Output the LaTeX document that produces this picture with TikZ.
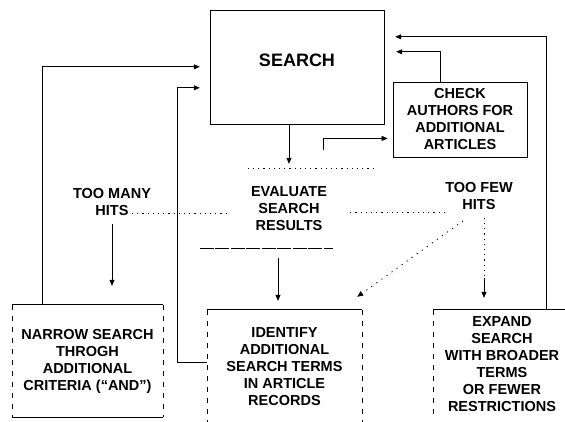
\documentclass[tikz,border=0pt]{standalone}
\usepackage{fontspec}
\setmainfont{Liberation Sans}
\usetikzlibrary{arrows.meta,calc}
\begin{document}
\begin{tikzpicture}[x=1pt,y=-1pt,
  lbl/.style={font=\fontsize{14.5}{17}\selectfont\bfseries, align=center, inner sep=0pt},
  box/.style={inner sep=0pt, font=\fontsize{14.5}{17}\selectfont\bfseries, align=center},
  boxedge/.style={line width=0.8pt},
  sideedge/.style={line width=0.6pt, dash pattern=on 5pt off 6pt},
  dotline/.style={line width=0.8pt, dash pattern=on 1.2pt off 4pt},
  dashline/.style={line width=0.8pt, dash pattern=on 14pt off 1.5pt},
  arr/.style={-{Triangle[length=6pt,width=5pt]}, line width=0.7pt},
  dotarr/.style={-{Triangle[length=6pt,width=5pt]}, line width=0.8pt, dash pattern=on 1.2pt off 5pt},
]
\useasboundingbox (0,0) rectangle (565,421);

% ---- boxes ----
\node[box, minimum width=173pt, minimum height=113pt] (search) at (297.5,67.5) {};
\node[lbl, font=\fontsize{18}{20}\selectfont\bfseries] (searchtxt) at (297,60) {SEARCH};
\draw[boxedge] (search.north west) rectangle (search.south east);

\node[box, draw, line width=0.8pt, minimum width=134pt, minimum height=75pt] (check) at (460,119.5)
  {CHECK\\AUTHORS FOR\\ADDITIONAL\\ARTICLES};

\node[box, minimum width=130pt, minimum height=79pt] (evaluate) at (289,208.5)
  {EVALUATE\\SEARCH\\RESULTS};
\draw[dotline] ($(evaluate.north west)+(24,0)$) -- ($(evaluate.north east)+(19,0)$);
\draw[dashline] ($(evaluate.south west)+(-24,0)$) -- ($(evaluate.south east)+(-21,0)$);

\node[box, minimum width=151pt, minimum height=112pt] (narrow) at (87.5,361)
  {NARROW SEARCH\\THROGH\\ADDITIONAL\\CRITERIA (“AND”)};
\draw[boxedge] (narrow.north west) -- (narrow.north east);
\draw[boxedge] (narrow.south west) -- (narrow.south east);
\draw[sideedge] (narrow.north west) -- (narrow.south west);
\draw[sideedge] (narrow.north east) -- (narrow.south east);

\node[box, minimum width=155pt, minimum height=114pt] (identify) at (284.5,367)
  {IDENTIFY\\ADDITIONAL\\SEARCH TERMS\\IN ARTICLE\\RECORDS};
\draw[boxedge] (identify.north west) -- (identify.north east);
\draw[sideedge] (identify.north west) -- (identify.south west);
\draw[sideedge] (identify.north east) -- (identify.south east);

\node[box, minimum width=138pt, minimum height=109pt] (expand) at (502,364.5)
  {EXPAND\\SEARCH\\WITH BROADER\\TERMS\\OR FEWER\\RESTRICTIONS};
\draw[boxedge] (expand.north west) -- (expand.north east);
\draw[sideedge] (expand.north west) -- (expand.south west);

% ---- labels ----
\node[lbl] (toomany) at (112,202) {TOO MANY\\HITS};
\node[lbl] (toofew) at (479,196) {TOO FEW\\HITS};

% ---- connectors ----
\draw[arr, shorten >=5pt] (search.south -| evaluate.north) -- (evaluate.north);
\draw[arr, shorten <=10pt, shorten >=9pt] ($(evaluate.south)+(-11,0)$) -- ($(identify.north)+(-6.5,0)$);

\coordinate (k1) at ($(evaluate.north)+(34,-19)$);
\draw[arr, shorten >=5pt] (k1) |- ($(check.south west)+(0,-19)$);

\draw[arr, shorten >=12pt] ($(check.north)+(-20,0)$) |- ($(search.north east)+(0,41)$);
\draw[arr, shorten >=11pt] ($(expand.north west)+(114,0)$) |- ($(search.north east)+(0,26)$);
\draw[arr, shorten >=11pt] ($(narrow.north west)+(31,0)$) |- ($(search.north west)+(0,56)$);
\draw[arr, shorten >=11pt] ($(identify.west)+(0,-5)$) -- ++(-29,0) |- ($(search.north west)+(0,77)$);

\draw[arr, shorten <=8pt, shorten >=19pt] (toomany.south) -- (toomany.south |- narrow.north);

\coordinate (f0) at ($(toofew.south)+(5,8)$);
\coordinate (f2) at ($(toofew.south)+(5,68)$);
\draw[dotline] (f0) -- (f2);
\draw[arr, shorten >=12pt] (f2) -- (f2 |- expand.north);

\coordinate (f1) at ($(toofew.south)+(-16,11)$);
\draw[dotarr] (f1) -- ($(identify.north east)+(-5,-13)$);

\draw[dotline] ($(toomany.center)+(20,11)$) -- ($(evaluate.west)+(2,4.5)$);
\draw[dotline] ($(evaluate.east)+(-4,3.5)$) -- ($(toofew.west)+(3,16)$);
\end{tikzpicture}
\end{document}
